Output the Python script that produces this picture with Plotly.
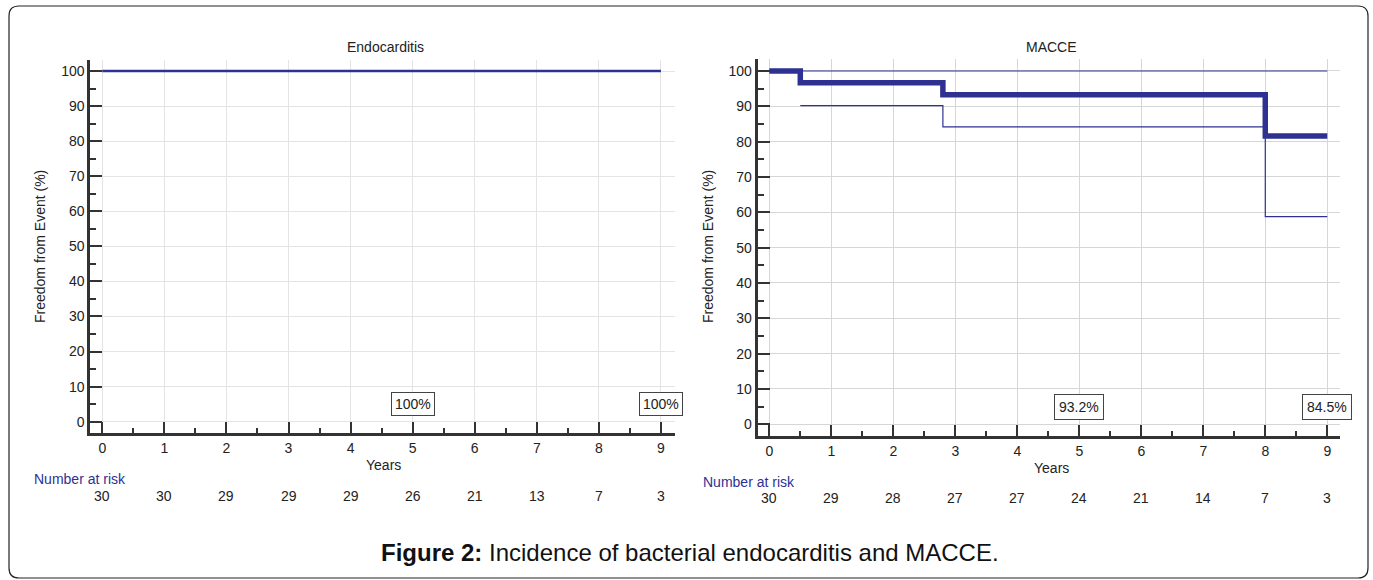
import plotly.graph_objects as go

# ---------------- data ----------------
years = [0, 1, 2, 3, 4, 5, 6, 7, 8, 9]

endo_time = [0, 9]
endo_surv = [100, 100]
endo_risk = [30, 30, 29, 29, 29, 26, 21, 13, 7, 3]
endo_labels = ["100%", "100%"]
endo_label_x = [5, 9]

macce_time = [0, 0.5, 2.8, 8.0, 9]
macce_surv = [100, 96.7, 93.3, 81.6, 81.6]
macce_upper_time = [0, 9]
macce_upper = [100, 100]
macce_lower_time = [0.5, 2.8, 8.0, 9]
macce_lower = [90.2, 84.2, 58.8, 58.8]
macce_risk = [30, 29, 28, 27, 27, 24, 21, 14, 7, 3]
macce_labels = ["93.2%", "84.5%"]
macce_label_x = [5, 9]

W, H = 1373, 580
BLUE = "#2E3192"
AX = "#333333"
FONT = "Arial, Liberation Sans, sans-serif"
FS = 14


def px(x):
    return x / W


def py(y):
    return 1 - y / H


fig = go.Figure()

fig.add_trace(go.Scatter(x=endo_time, y=endo_surv, mode="lines", line_shape="hv",
                         line=dict(color=BLUE, width=2.5), xaxis="x", yaxis="y",
                         showlegend=False, hoverinfo="skip"))

fig.add_trace(go.Scatter(x=macce_upper_time, y=macce_upper, mode="lines", line_shape="hv",
                         line=dict(color=BLUE, width=1.2), xaxis="x2", yaxis="y2",
                         showlegend=False, hoverinfo="skip"))
fig.add_trace(go.Scatter(x=macce_lower_time, y=macce_lower, mode="lines", line_shape="hv",
                         line=dict(color=BLUE, width=1.2), xaxis="x2", yaxis="y2",
                         showlegend=False, hoverinfo="skip"))
fig.add_trace(go.Scatter(x=macce_time, y=macce_surv, mode="lines", line_shape="hv",
                         line=dict(color=BLUE, width=5.5), xaxis="x2", yaxis="y2",
                         showlegend=False, hoverinfo="skip"))


def xaxis_cfg(dom, rng, anchor, gridcolor):
    return dict(domain=dom, range=rng, anchor=anchor, tickmode="array", tickvals=years,
                ticks="inside", ticklen=11, tickwidth=2, tickcolor=AX,
                minor=dict(ticks="inside", ticklen=5, tickwidth=1.5, tickcolor=AX, dtick=0.5,
                           tick0=0, showgrid=False),
                showline=True, linewidth=3, linecolor=AX, showgrid=True, gridcolor=gridcolor,
                gridwidth=1, zeroline=False, tickfont=dict(size=FS, color="#222", family=FONT),
                fixedrange=True)


def yaxis_cfg(dom, rng, anchor, gridcolor):
    return dict(domain=dom, range=rng, anchor=anchor, tickmode="array",
                tickvals=list(range(0, 101, 10)),
                ticks="inside", ticklen=12, tickwidth=2, tickcolor=AX,
                minor=dict(ticks="inside", ticklen=6, tickwidth=1.5, tickcolor=AX, dtick=5,
                           tick0=0, showgrid=False),
                showline=True, linewidth=3, linecolor=AX, showgrid=True, gridcolor=gridcolor,
                gridwidth=1, zeroline=False, tickfont=dict(size=FS, color="#222", family=FONT),
                fixedrange=True)


def note(text, x, y, xref="paper", yref="paper", xanchor="center", color="#222", size=FS,
         **kw):
    return dict(text=text, x=x, y=y, xref=xref, yref=yref, xanchor=xanchor,
                yanchor="middle", showarrow=False,
                font=dict(size=size, color=color, family=FONT), **kw)


annotations = []

# subplot titles
annotations.append(note("Endocarditis", px(385), py(47)))
annotations.append(note("MACCE", px(1051), py(47)))

# axis titles
for xx, yy in [(40, 247), (708, 247)]:
    annotations.append(note("Freedom from Event (%)", px(xx), py(yy), textangle=-90))
for xx, yy in [(383, 465), (1051, 468)]:
    annotations.append(note("Years", px(xx), py(yy)))

# number at risk
for xx, yy in [(32, 479), (701, 482)]:
    annotations.append(note("Number at risk", px(xx), py(yy), xanchor="left", color=BLUE))
for xr, vals, yy in [("x", endo_risk, 496), ("x2", macce_risk, 498)]:
    for yv, v in zip(years, vals):
        annotations.append(note(str(v), yv, py(yy), xref=xr))

# survival labels
for xr, yr, xs, labs, pad in [("x", "y", endo_label_x, endo_labels, 3),
                              ("x2", "y2", macce_label_x, macce_labels, 4)]:
    for xv, lab in zip(xs, labs):
        annotations.append(note(lab, xv, 5, xref=xr, yref=yr, bordercolor="#444",
                                borderwidth=1, borderpad=pad, bgcolor="white"))

# caption
annotations.append(note("<b>Figure 2:</b> Incidence of bacterial endocarditis and MACCE.",
                        px(690), py(552), color="#111", size=24))

# rounded border
x0, x1, y0, y1, r = px(9), px(1368), py(6), py(578), 10
rx, ry = r / W, r / H
path = (f"M {x0+rx},{y0} L {x1-rx},{y0} Q {x1},{y0} {x1},{y0-ry} "
        f"L {x1},{y1+ry} Q {x1},{y1} {x1-rx},{y1} "
        f"L {x0+rx},{y1} Q {x0},{y1} {x0},{y1+ry} "
        f"L {x0},{y0-ry} Q {x0},{y0} {x0+rx},{y0} Z")

fig.update_layout(
    width=W, height=H,
    margin=dict(l=0, r=0, t=0, b=0),
    paper_bgcolor="white", plot_bgcolor="white",
    font=dict(family=FONT, size=FS, color="#222"),
    xaxis=xaxis_cfg([px(90.3), px(674.6)], [-0.193, 9.22], "y", "#e4e4e4"),
    yaxis=yaxis_cfg([py(432.7), py(60)], [-3.14, 103.14], "x", "#e4e4e4"),
    xaxis2=xaxis_cfg([px(757.7), px(1340.3)], [-0.187, 9.21], "y2", "#d6d6d6"),
    yaxis2=yaxis_cfg([py(436), py(59.3)], [-3.31, 103.31], "x2", "#d6d6d6"),
    annotations=annotations,
    shapes=[dict(type="path", path=path, xref="paper", yref="paper",
                 line=dict(color="#222", width=1.2), layer="above")],
)

fig.write_html("out.html", config={"displayModeBar": False})
